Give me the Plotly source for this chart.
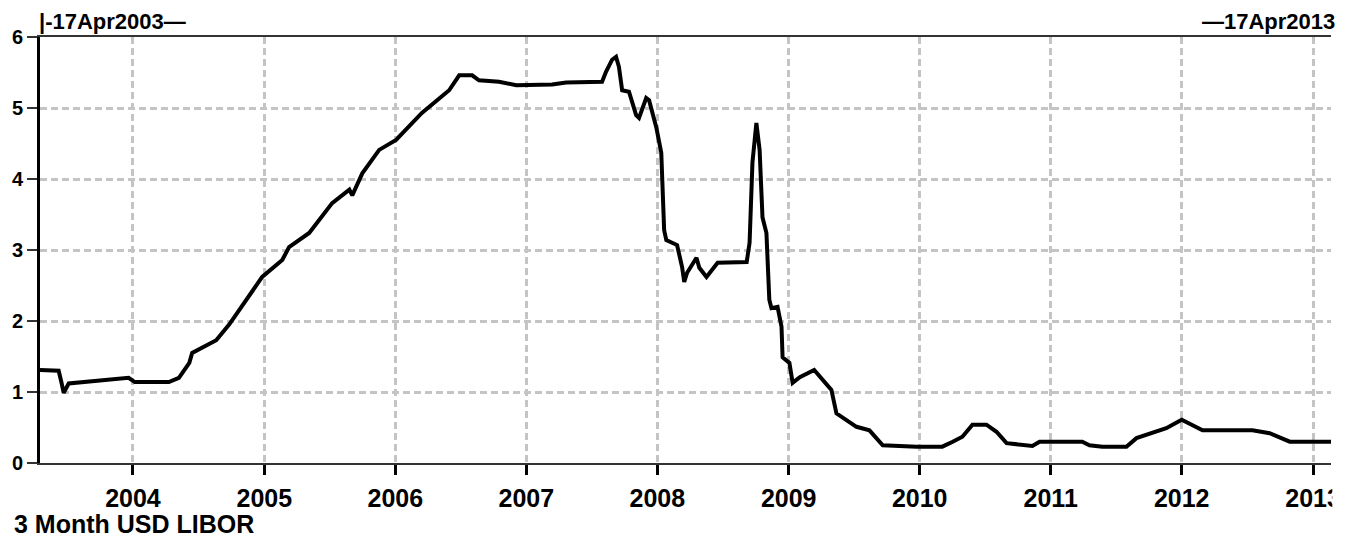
import plotly.graph_objects as go

# --- data (3 Month USD LIBOR, %) ---
dates = [
    "2003-04-17", "2003-06-08", "2003-06-16", "2003-06-22", "2003-07-06", "2003-08-31",
    "2003-10-26", "2003-12-20", "2004-01-06", "2004-04-10", "2004-05-08", "2004-06-06",
    "2004-06-14", "2004-07-12", "2004-08-20", "2004-09-25", "2004-11-11", "2004-12-26",
    "2005-02-20", "2005-03-11", "2005-05-06", "2005-07-09", "2005-08-26", "2005-09-03",
    "2005-10-01", "2005-11-17", "2006-01-03", "2006-03-16", "2006-05-31", "2006-06-28",
    "2006-08-03", "2006-08-22", "2006-10-17", "2006-12-04", "2007-03-14", "2007-04-22",
    "2007-07-31", "2007-08-11", "2007-08-28", "2007-09-08", "2007-09-16", "2007-09-25",
    "2007-10-14", "2007-11-03", "2007-11-11", "2007-12-01", "2007-12-09", "2007-12-29",
    "2008-01-12", "2008-01-15", "2008-01-20", "2008-01-26", "2008-02-25", "2008-03-10",
    "2008-03-16", "2008-03-24", "2008-04-19", "2008-04-27", "2008-05-17", "2008-06-17",
    "2008-09-06", "2008-09-14", "2008-09-20", "2008-09-22", "2008-10-03", "2008-10-06",
    "2008-10-12", "2008-10-20", "2008-10-31", "2008-11-08", "2008-11-14", "2008-12-01",
    "2008-12-12", "2008-12-15", "2009-01-03", "2009-01-12", "2009-02-01", "2009-03-13",
    "2009-04-30", "2009-05-14", "2009-07-09", "2009-08-14", "2009-09-20", "2009-12-24",
    "2010-03-05", "2010-04-03", "2010-04-30", "2010-05-28", "2010-07-06", "2010-08-03",
    "2010-08-31", "2010-11-11", "2010-12-01", "2011-03-30", "2011-04-19", "2011-05-25",
    "2011-07-31", "2011-08-28", "2011-11-19", "2012-01-01", "2012-02-28", "2012-07-16",
    "2012-09-02", "2012-10-28", "2013-04-10", "2013-04-17",
]
rates = [
    1.31, 1.30, 1.13, 0.99, 1.12, 1.15,
    1.18, 1.20, 1.14, 1.14, 1.20, 1.41,
    1.55, 1.62, 1.73, 1.95, 2.30, 2.62,
    2.86, 3.04, 3.24, 3.66, 3.85, 3.77,
    4.08, 4.41, 4.55, 4.93, 5.25, 5.46,
    5.46, 5.39, 5.37, 5.32, 5.33, 5.36,
    5.37, 5.51, 5.68, 5.72, 5.58, 5.25,
    5.23, 4.90, 4.86, 5.14, 5.11, 4.73,
    4.37, 3.99, 3.28, 3.14, 3.07, 2.76,
    2.55, 2.68, 2.89, 2.75, 2.62, 2.82,
    2.83, 3.10, 3.75, 4.23, 4.79, 4.65,
    4.41, 3.46, 3.24, 2.30, 2.18, 2.20,
    1.92, 1.49, 1.41, 1.13, 1.21, 1.31,
    1.03, 0.70, 0.51, 0.46, 0.25, 0.23,
    0.23, 0.30, 0.37, 0.54, 0.54, 0.44,
    0.28, 0.24, 0.30, 0.30, 0.25, 0.23,
    0.23, 0.35, 0.49, 0.61, 0.46, 0.46,
    0.42, 0.30, 0.30, 0.28,
]
y_ticks = [0, 1, 2, 3, 4, 5, 6]
x_range = ["2003-04-17", "2013-02-20"]
title_text = "3 Month USD LIBOR"
start_label = "|-17Apr2003—"
end_label = "—17Apr2013"

FONT = "Liberation Sans, Arial, sans-serif"

fig = go.Figure()
fig.add_trace(go.Scatter(
    x=dates, y=rates, mode="lines",
    line=dict(color="black", width=4),
    hoverinfo="x+y", showlegend=False,
))

fig.update_layout(
    width=1349, height=540,
    margin=dict(l=32, r=26, t=29, b=85, autoexpand=False),
    paper_bgcolor="white", plot_bgcolor="white",
    font=dict(family=FONT, color="black", size=24, weight="bold"),
    xaxis=dict(
        type="date", range=x_range, automargin=False,
        tick0="2004-01-01", dtick="M12", tickformat="%Y",
        showgrid=True, gridcolor="#c4c4c4", gridwidth=3, griddash="7px,4px",
        showline=True, linecolor="#333333", linewidth=2, mirror=True,
        ticks="outside", ticklen=10, tickwidth=3, tickcolor="black",
        ticklabelstandoff=2,
        tickfont=dict(family=FONT, size=25, color="black", weight="bold"),
        zeroline=False,
    ),
    yaxis=dict(
        range=[0, 6], tickvals=y_ticks, automargin=False,
        showgrid=True, gridcolor="#c4c4c4", gridwidth=3, griddash="7px,4px",
        showline=True, linecolor="black", linewidth=3,
        ticks="outside", ticklen=10, tickwidth=2, tickcolor="#333333",
        ticklabelstandoff=0,
        tickfont=dict(family=FONT, size=20, color="black", weight="bold"),
        zeroline=False,
    ),
    annotations=[
        dict(text=start_label, xref="paper", yref="paper", x=-0.002, y=1.0,
             xanchor="left", yanchor="bottom", yshift=1, showarrow=False,
             font=dict(family=FONT, size=22, color="black", weight="bold")),
        dict(text=end_label, xref="paper", yref="paper", x=1.005, y=1.0,
             xanchor="right", yanchor="bottom", yshift=1, showarrow=False,
             font=dict(family=FONT, size=22, color="black", weight="bold")),
        dict(text=title_text, xref="paper", yref="paper", x=-0.022, y=-0.143,
             xanchor="left", yanchor="middle", showarrow=False,
             font=dict(family=FONT, size=25, color="black", weight="bold")),
    ],
    shapes=[
        dict(type="rect", xref="paper", yref="paper", x0=1.001, x1=1.03, y0=-0.25, y1=1.0,
             fillcolor="white", line=dict(width=0), layer="above"),
    ],
)

fig.write_html("out.html")
